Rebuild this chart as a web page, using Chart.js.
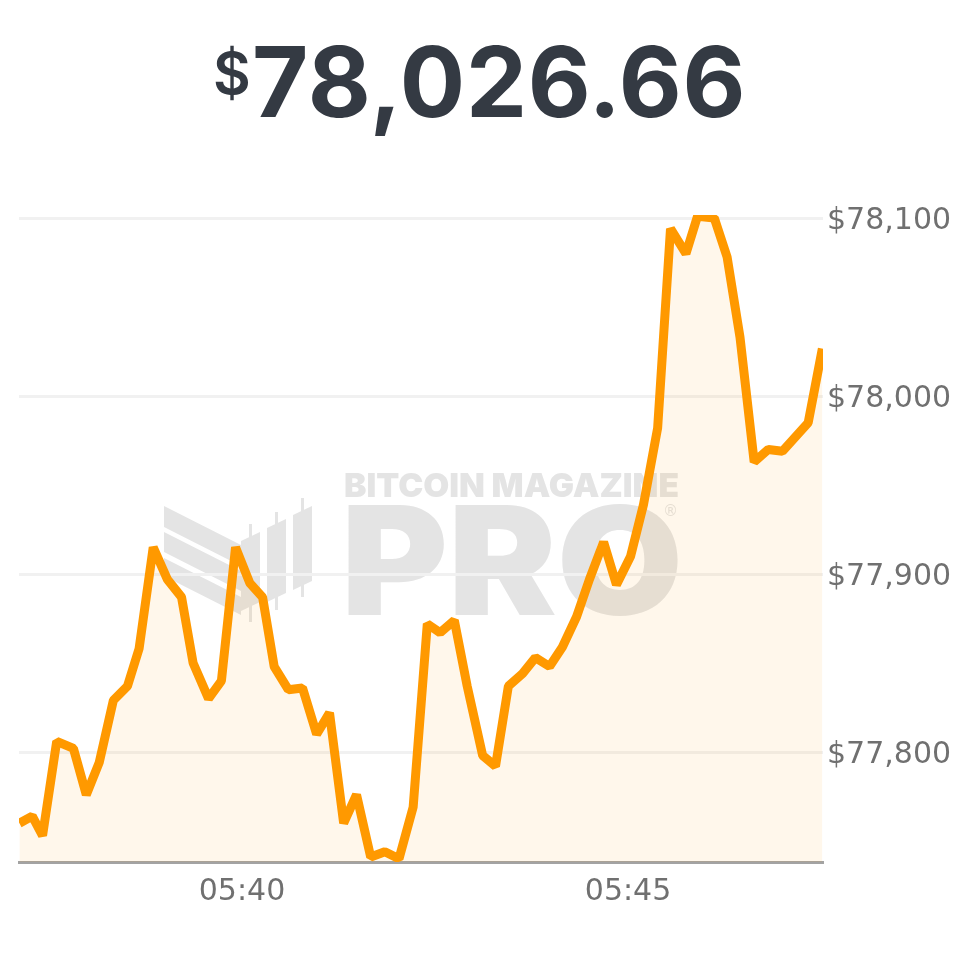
<!DOCTYPE html>
<html>
<head>
<meta charset="utf-8">
<title>Bitcoin price</title>
<script src="https://cdn.jsdelivr.net/npm/chart.js@4"></script>
<style>
  html, body { margin: 0; padding: 0; background: #fff; }
  #wrap { position: relative; width: 968px; height: 966px; overflow: hidden; }
  #dollar { position: absolute; left: 213px; top: 38px; white-space: nowrap;
           font-family: Inter, sans-serif; font-weight: 600; font-size: 58px; line-height: 70px; color: #343a43; }
  #price { position: absolute; left: 252px; top: 22px; white-space: nowrap; letter-spacing: 0.7px;
           font-family: Inter, sans-serif; font-weight: 700; font-size: 97px; line-height: 120px; color: #343a43; }
  canvas { position: absolute; left: 0; top: 0; }
</style>
</head>
<body>
<div id="wrap">
  <canvas id="priceChart" width="968" height="966"></canvas>
  <div id="dollar">$</div>
  <div id="price">78,026.66</div>
</div>
<script>
// seconds after 05:00
var times = [2227, 2237, 2245, 2256, 2269, 2279, 2289, 2300, 2311, 2320, 2331, 2342, 2353, 2362, 2374, 2384,
    2395, 2406, 2416, 2425, 2436, 2447, 2458, 2468, 2479, 2489, 2500, 2511, 2522, 2533, 2544, 2554,
    2565, 2575, 2587, 2597, 2607, 2618, 2628, 2639, 2649, 2660, 2670, 2681, 2691, 2702, 2712, 2723,
    2733, 2745, 2754, 2767, 2777, 2787, 2798, 2809, 2820, 2830, 2840, 2851];
var prices = [77760, 77764, 77753, 77806, 77802, 77776, 77794, 77829, 77837, 77858, 77915, 77897, 77887, 77850, 77830, 77840,
    77915, 77895, 77887, 77848, 77835, 77836, 77810, 77822, 77760, 77776, 77741, 77744, 77740, 77769, 77872, 77867,
    77874, 77837, 77798, 77792, 77837, 77844, 77853, 77848, 77859, 77876, 77897, 77918, 77894, 77910, 77939, 77982,
    78094, 78080, 78101, 78100, 78078, 78033, 77963, 77970, 77969, 77977, 77985, 78026.66];
var priceTicks = [77800, 77900, 78000, 78100];
var timeTicks = [2400, 2700];
var timeTickLabels = ['05:40', '05:45'];

// squeezes or stretches text to an exact width
function fitText(c, text, x, y, width) {
    c.save();
    c.translate(x, y);
    c.scale(width / c.measureText(text).width, 1);
    c.fillText(text, 0, 0);
    c.restore();
}

// watermark goes under the grid and the fill
var watermark = {
    id: 'watermark',
    beforeDraw: function(chart) {
        var c = chart.ctx;
        c.save();
        c.fillStyle = '#e4e4e4';
        c.textBaseline = 'alphabetic';
        c.font = '900 33px Inter';
        fitText(c, 'BITCOIN MAGAZINE', 344, 497, 335);
        c.font = '900 151px Inter';
        fitText(c, 'PRO', 341, 615, 342);
        c.font = '400 15px "DejaVu Sans"';
        c.fillText('®', 663, 516);

        // stripes
        [[506, 527], [532, 552], [558, 576]].forEach(function(s) {
            c.beginPath();
            c.moveTo(164, s[0]);
            c.lineTo(241, s[0] + 39);
            c.lineTo(241, s[1] + 39);
            c.lineTo(164, s[1]);
            c.fill();
        });
        // candles
        [[241, 541, 611, 524, 622], [267, 528, 602, 512, 610], [293, 515, 590, 498, 597]].forEach(function(b) {
            c.beginPath();
            c.moveTo(b[0], b[1]);
            c.lineTo(b[0] + 19, b[1] - 9);
            c.lineTo(b[0] + 19, b[2] - 9);
            c.lineTo(b[0], b[2]);
            c.fill();
            c.fillRect(b[0] + 8, b[3], 3, b[4] - b[3]);
        });
        c.restore();
    }
};

var ctx = document.getElementById('priceChart').getContext('2d');
var priceChart = new Chart(ctx, {
    type: 'line',
    data: {
        datasets: [{
            data: times.map(function(t, i) { return { x: t, y: prices[i] }; }),
            borderColor: '#ff9900',
            borderWidth: 9,
            borderJoinStyle: 'bevel',
            backgroundColor: 'rgba(255, 153, 0, 0.08)',
            fill: 'start',
            pointRadius: 0,
            tension: 0,
            clip: 0
        }]
    },
    options: {
        responsive: false,
        animation: false,
        layout: { padding: { left: 19, top: 215, right: 0, bottom: 0 } },
        plugins: { legend: { display: false }, tooltip: { enabled: false } },
        scales: {
            x: {
                type: 'linear',
                min: 2226.7,
                max: 2851.5,
                afterFit: function(s) { s.height = 104; },
                afterBuildTicks: function(s) { s.ticks = timeTicks.map(function(v) { return { value: v }; }); },
                grid: { display: false },
                border: { color: '#a3a3a3', width: 3 },
                ticks: {
                    color: '#707070',
                    font: { family: 'DejaVu Sans', size: 30 },
                    padding: 4,
                    maxRotation: 0,
                    autoSkip: false,
                    callback: function(v) { return timeTickLabels[timeTicks.indexOf(v)]; }
                }
            },
            y: {
                position: 'right',
                min: 77738.2,
                max: 78101.7,
                afterFit: function(s) { s.width = 145; },
                afterBuildTicks: function(s) { s.ticks = priceTicks.map(function(v) { return { value: v }; }); },
                grid: { color: '#f1f1f1', lineWidth: 3, drawTicks: false },
                border: { display: false },
                ticks: {
                    color: '#707070',
                    font: { family: 'DejaVu Sans', size: 30 },
                    padding: 4,
                    labelOffset: 3,
                    autoSkip: false,
                    callback: function(v) { return '$' + v.toLocaleString('en-US'); }
                }
            }
        }
    },
    plugins: [watermark]
});
</script>
</body>
</html>
